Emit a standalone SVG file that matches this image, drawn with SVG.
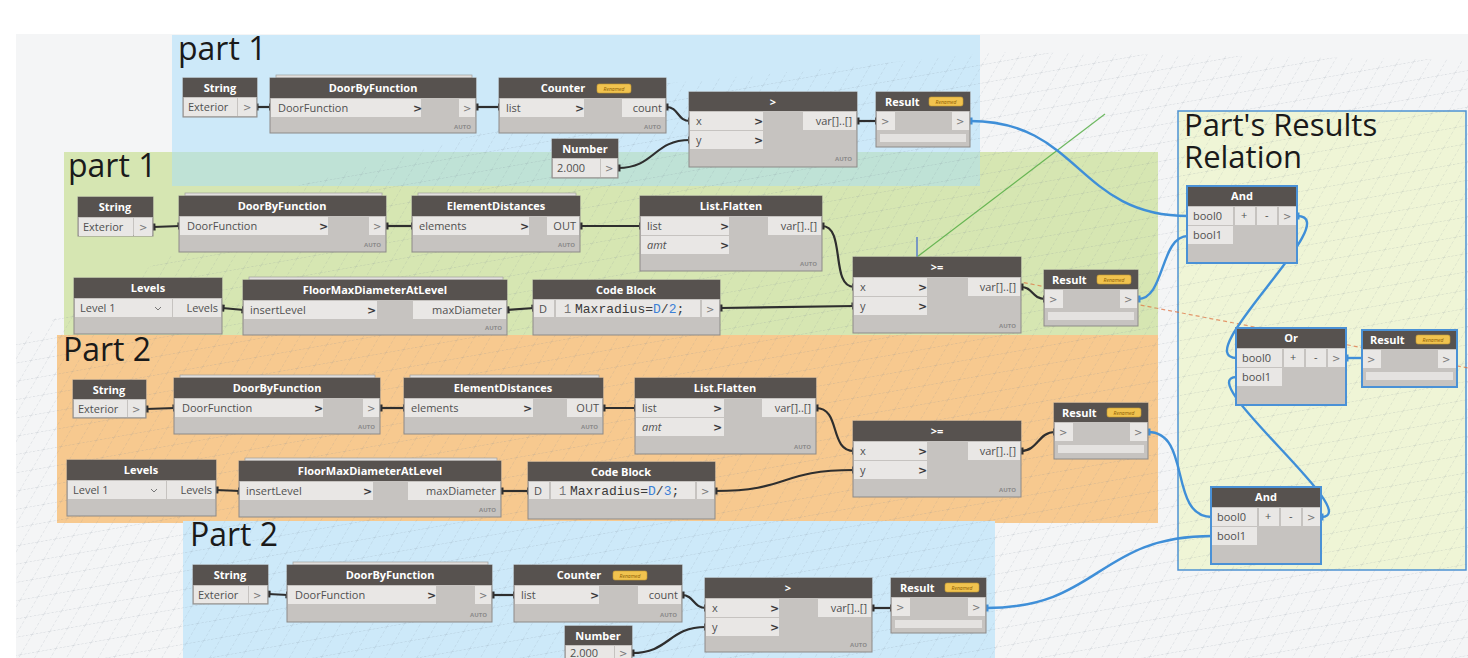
<svg xmlns="http://www.w3.org/2000/svg" width="1468" height="658" viewBox="0 0 1468 658">
<defs>
<style>
.nb{fill:#c6c3c0;stroke:#8d8a88;stroke-width:1}
.nh{fill:#57524f}
.pf{fill:#e9e7e5}
.bar{fill:#e4e2e0}
.ht{font-family:"Open Sans",sans-serif;font-weight:bold;font-size:11px;fill:#ffffff;text-anchor:middle}
.hl{text-anchor:start}
.pt{font-family:"Open Sans",sans-serif;font-size:11px;fill:#505050}
.pr{text-anchor:end}
.it{font-style:italic}
.cv{font-family:"DejaVu Sans",sans-serif;font-weight:bold;font-size:11px;fill:#3a3a3a}
.og{font-family:"DejaVu Sans",sans-serif;font-size:10px;fill:#7a7a7a}
.au{font-family:"Open Sans",sans-serif;font-weight:bold;font-size:6px;fill:#8a8a8a;text-anchor:end}
.rb{fill:#f1c34f;stroke:#c79a30;stroke-width:.6}
.rt{font-family:"Open Sans",sans-serif;font-style:italic;font-size:5px;fill:#8a5b00;text-anchor:middle}
.gt{font-family:"Open Sans",sans-serif;font-size:32px;fill:#1a1a1a}
.gr{font-family:"Open Sans",sans-serif;font-size:31px;fill:#1a1a1a}
.mono{font-family:"Liberation Mono",monospace;font-size:13px;fill:#3a3a3a}
.ln{font-family:"Liberation Mono",monospace;font-size:12px;fill:#777}
.kw{fill:#3c7fd6}
.w{fill:none;stroke:#2e2e2e;stroke-width:2.2;marker-start:url(#n);marker-end:url(#n)}
.bw{fill:none;stroke:#3f8fd8;stroke-width:2.4;marker-start:url(#nb);marker-end:url(#nb)}
.sel{stroke:#4a91d6;stroke-width:2}
.stk{fill:#e2e0de;stroke:#a09e9c;stroke-width:.7}
</style>
<marker id="n" markerWidth="6" markerHeight="8" refX="2.5" refY="4" orient="auto" markerUnits="userSpaceOnUse"><rect x="0" y="0.5" width="5" height="7" fill="#2e2e2e"/></marker>
<marker id="nb" markerWidth="6" markerHeight="8" refX="2.5" refY="4" orient="auto" markerUnits="userSpaceOnUse"><rect x="0" y="0.5" width="5" height="7" fill="#3f8fd8"/></marker>
<pattern id="grid" width="18" height="18" patternUnits="userSpaceOnUse" patternTransform="rotate(-10) skewX(-40)">
<path d="M0 0H18M0 0V18" fill="none" stroke="#7d8a97" stroke-width="0.8" stroke-dasharray="2.5 1.5"/>
</pattern>
</defs>

<rect x="0" y="0" width="1468" height="658" fill="#ffffff"/>
<rect x="16" y="34" width="1452" height="624" fill="#f4f5f6"/>

<g id="groups">
<rect x="172" y="35" width="808" height="151" fill="#cde9f9"/>
<rect x="64" y="152" width="1094" height="184" fill="#d6e6b2"/>
<rect x="172" y="152" width="808" height="34" fill="#bfe2d6"/>
<rect x="57" y="335" width="1101" height="188" fill="#f7c98f"/>
<rect x="183" y="521" width="812" height="137" fill="#cde9f9"/>
<rect x="1178" y="111" width="288" height="459" fill="#eff5d6" stroke="#4d92d3" stroke-width="1.5"/>
</g>

<polygon points="16,340 300,185 650,85 1000,52 1468,60 1468,658 16,658" fill="url(#grid)" opacity="0.4"/>
<line x1="917" y1="257" x2="1105" y2="114" stroke="#4caa3c" stroke-width="1.2" opacity="0.8"/>
<line x1="917" y1="237" x2="917" y2="257" stroke="#5a7ec8" stroke-width="1.5"/>
<line x1="1010" y1="280" x2="1468" y2="368" stroke="#e0703e" stroke-width="1.2" stroke-dasharray="4 3" opacity="0.7"/>

<g id="titles">
<text class="gt" x="178" y="60">part 1</text>
<text class="gt" x="68" y="177">part 1</text>
<text class="gt" x="63" y="361">Part 2</text>
<text class="gt" x="190" y="546">Part 2</text>
<text class="gr"><tspan x="1184" y="136">Part's Results</tspan><tspan x="1184" y="168">Relation</tspan></text>
</g>

<g id="connectors">
<path class="w" d="M256,107 L271,107"/>
<path class="w" d="M476,107 L500,107"/>
<path class="w" d="M666,107 C679,107 677,121 690,121"/>
<path class="w" d="M618,168 C655,168 653,140 690,140"/>
<path class="w" d="M857,121 L877,121"/>
<path class="w" d="M153,227 L180,226"/>
<path class="w" d="M386,226 L413,226"/>
<path class="w" d="M580,226 L641,226"/>
<path class="w" d="M822,226 C846,226 830,287 854,287"/>
<path class="w" d="M222,308 L244,310"/>
<path class="w" d="M507,310 L534,308"/>
<path class="w" d="M720,308 L854,306"/>
<path class="w" d="M1021,287 C1033,287 1032,299 1045,299"/>
<path class="w" d="M146,409 L175,408"/>
<path class="w" d="M380,408 L405,408"/>
<path class="w" d="M603,408 L636,408"/>
<path class="w" d="M816,408 C841,408 829,451 854,451"/>
<path class="w" d="M216,490 L240,491"/>
<path class="w" d="M501,491 L529,491"/>
<path class="w" d="M715,491 C790,491 779,470 854,470"/>
<path class="w" d="M1021,451 C1038,451 1038,432 1055,432"/>
<path class="w" d="M268,594 L288,595"/>
<path class="w" d="M492,595 L515,595"/>
<path class="w" d="M682,595 C694,595 693,608 706,608"/>
<path class="w" d="M632,653 C670,653 668,627 706,627"/>
<path class="w" d="M872,608 L892,608"/>
<path class="bw" d="M970,121 C1080,121 1077,216 1188,216"/>
<path class="bw" d="M1138,299 C1165,299 1160,236 1188,236"/>
<path class="bw" d="M1297,216 C1348,216 1186,358 1237,358"/>
<path class="bw" d="M1321,517 C1368,517 1190,377 1237,377"/>
<path class="bw" d="M1148,432 C1192,432 1168,517 1212,517"/>
<path class="bw" d="M986,608 C1100,608 1097,536 1212,536"/>
<path class="bw" d="M1346,358 L1363,358"/>
</g>

<!-- ===== Top part 1 ===== -->
<g id="p1a-string">
<rect class="nb" x="183" y="78" width="74" height="39"/>
<rect class="nh" x="183" y="78" width="74" height="19"/>
<text class="ht" x="220" y="92">String</text>
<rect class="pf" x="184" y="98" width="53" height="18"/>
<text class="pt" x="188" y="111">Exterior</text>
<rect class="pf" x="238" y="98" width="18" height="18"/>
<text class="og" x="243" y="111">&gt;</text>
</g>
<g id="p1a-door">
<rect class="stk" x="276" y="75" width="196" height="3"/>
<rect class="nb" x="270" y="78" width="206" height="55"/>
<rect class="nh" x="270" y="78" width="206" height="20"/>
<text class="ht" x="373" y="92">DoorByFunction</text>
<rect class="pf" x="271" y="99" width="150" height="18"/>
<text class="pt" x="278" y="112">DoorFunction</text>
<text class="cv" x="413" y="112">&gt;</text>
<rect class="pf" x="459" y="99" width="16" height="18"/>
<text class="og" x="463" y="112">&gt;</text>
<text class="au" x="471" y="129">AUTO</text>
</g>
<g id="p1a-counter">
<rect class="nb" x="499" y="78" width="167" height="55"/>
<rect class="nh" x="499" y="78" width="167" height="20"/>
<text class="ht" x="563" y="92">Counter</text>
<rect class="rb" x="597" y="84" width="34" height="9" rx="2"/>
<text class="rt" x="614" y="90.5">Renamed</text>
<rect class="pf" x="500" y="99" width="84" height="18"/>
<text class="pt" x="506" y="112">list</text>
<text class="cv" x="575" y="112">&gt;</text>
<rect class="pf" x="622" y="99" width="43" height="18"/>
<text class="pt pr" x="662" y="112">count</text>
<text class="au" x="661" y="129">AUTO</text>
</g>
<g id="p1a-number">
<rect class="nb" x="552" y="139" width="66" height="39"/>
<rect class="nh" x="552" y="139" width="66" height="19"/>
<text class="ht" x="585" y="153">Number</text>
<rect class="pf" x="553" y="159" width="47" height="18"/>
<text class="pt" x="557" y="172">2.000</text>
<rect class="pf" x="601" y="159" width="16" height="18"/>
<text class="og" x="605" y="172">&gt;</text>
</g>
<g id="p1a-gt">
<rect class="nb" x="689" y="92" width="168" height="75"/>
<rect class="nh" x="689" y="92" width="168" height="19"/>
<text class="ht" x="773" y="106">&gt;</text>
<rect class="pf" x="690" y="112" width="73" height="18"/>
<text class="pt" x="696" y="125">x</text>
<text class="cv" x="754" y="125">&gt;</text>
<rect class="pf" x="690" y="131" width="73" height="18"/>
<text class="pt" x="696" y="144">y</text>
<text class="cv" x="754" y="144">&gt;</text>
<rect class="pf" x="803" y="112" width="53" height="18"/>
<text class="pt pr" x="852" y="125">var[]..[]</text>
<text class="au" x="852" y="161">AUTO</text>
</g>
<g id="p1a-result">
<rect class="nb" x="876" y="92" width="94" height="55"/>
<rect class="nh" x="876" y="92" width="94" height="19"/>
<text class="ht hl" x="885" y="106">Result</text>
<rect class="rb" x="929" y="97" width="34" height="9" rx="2"/>
<text class="rt" x="946" y="103.5">Renamed</text>
<rect class="pf" x="877" y="112" width="18" height="18"/>
<text class="og" x="881" y="125">&gt;</text>
<rect class="pf" x="952" y="112" width="17" height="18"/>
<text class="og" x="956" y="125">&gt;</text>
<rect class="bar" x="880" y="134" width="86" height="8"/>
</g>

<!-- ===== Green part 1 ===== -->
<g id="p1b-string">
<rect class="nb" x="78" y="197" width="75" height="39"/>
<rect class="nh" x="78" y="197" width="75" height="20"/>
<text class="ht" x="115" y="211">String</text>
<rect class="pf" x="79" y="218" width="54" height="18"/>
<text class="pt" x="83" y="231">Exterior</text>
<rect class="pf" x="134" y="218" width="18" height="18"/>
<text class="og" x="139" y="231">&gt;</text>
</g>
<g id="p1b-door">
<rect class="stk" x="185" y="193" width="197" height="3"/>
<rect class="nb" x="179" y="196" width="207" height="56"/>
<rect class="nh" x="179" y="196" width="207" height="20"/>
<text class="ht" x="282" y="210">DoorByFunction</text>
<rect class="pf" x="180" y="217" width="148" height="18"/>
<text class="pt" x="187" y="230">DoorFunction</text>
<text class="cv" x="319" y="230">&gt;</text>
<rect class="pf" x="369" y="217" width="16" height="18"/>
<text class="og" x="373" y="230">&gt;</text>
<text class="au" x="381" y="247">AUTO</text>
</g>
<g id="p1b-elemdist">
<rect class="stk" x="418" y="193" width="158" height="3"/>
<rect class="nb" x="412" y="196" width="168" height="56"/>
<rect class="nh" x="412" y="196" width="168" height="20"/>
<text class="ht" x="496" y="210">ElementDistances</text>
<rect class="pf" x="413" y="217" width="116" height="18"/>
<text class="pt" x="419" y="230">elements</text>
<text class="cv" x="520" y="230">&gt;</text>
<rect class="pf" x="547" y="217" width="32" height="18"/>
<text class="pt pr" x="576" y="230">OUT</text>
<text class="au" x="575" y="247">AUTO</text>
</g>
<g id="p1b-flatten">
<rect class="nb" x="640" y="196" width="182" height="75"/>
<rect class="nh" x="640" y="196" width="182" height="20"/>
<text class="ht" x="731" y="210">List.Flatten</text>
<rect class="pf" x="641" y="217" width="88" height="18"/>
<text class="pt" x="647" y="230">list</text>
<text class="cv" x="720" y="230">&gt;</text>
<rect class="pf" x="641" y="236" width="88" height="18"/>
<text class="pt it" x="647" y="249">amt</text>
<text class="cv" x="720" y="249">&gt;</text>
<rect class="pf" x="768" y="217" width="53" height="18"/>
<text class="pt pr" x="817" y="230">var[]..[]</text>
<text class="au" x="817" y="266">AUTO</text>
</g>
<g id="p1b-levels">
<rect class="nb" x="74" y="278" width="148" height="56"/>
<rect class="nh" x="74" y="278" width="148" height="20"/>
<text class="ht" x="148" y="292">Levels</text>
<rect class="pf" x="75" y="299" width="97" height="18"/>
<text class="pt" x="80" y="312">Level 1</text>
<polyline points="155,307 158,310 161,307" fill="none" stroke="#777" stroke-width="1"/>
<rect class="pf" x="173" y="299" width="48" height="18"/>
<text class="pt pr" x="218" y="312">Levels</text>
</g>
<g id="p1b-floormax">
<rect class="stk" x="249" y="277" width="254" height="3"/>
<rect class="nb" x="243" y="280" width="264" height="55"/>
<rect class="nh" x="243" y="280" width="264" height="20"/>
<text class="ht" x="375" y="294">FloorMaxDiameterAtLevel</text>
<rect class="pf" x="244" y="301" width="133" height="18"/>
<text class="pt" x="250" y="314">insertLevel</text>
<text class="cv" x="367" y="314">&gt;</text>
<rect class="pf" x="413" y="301" width="93" height="18"/>
<text class="pt pr" x="502" y="314">maxDiameter</text>
<text class="au" x="502" y="330">AUTO</text>
</g>
<g id="p1b-codeblock">
<rect class="nb" x="533" y="280" width="187" height="55"/>
<rect class="nh" x="533" y="280" width="187" height="19"/>
<text class="ht" x="626" y="294">Code Block</text>
<rect class="pf" x="534" y="300" width="20" height="17"/>
<text class="pt" x="539" y="313">D</text>
<rect class="pf" x="556" y="300" width="144" height="17"/>
<text class="ln" x="564" y="313">1</text>
<text class="mono" x="575" y="313">Maxradius=<tspan class="kw">D</tspan>/<tspan class="kw">2</tspan>;</text>
<rect class="pf" x="702" y="300" width="17" height="17"/>
<text class="og" x="706" y="313">&gt;</text>
</g>
<g id="p1b-gte">
<rect class="nb" x="853" y="257" width="168" height="76"/>
<rect class="nh" x="853" y="257" width="168" height="20"/>
<text class="ht" x="937" y="271">&gt;=</text>
<rect class="pf" x="854" y="278" width="73" height="18"/>
<text class="pt" x="860" y="291">x</text>
<text class="cv" x="918" y="291">&gt;</text>
<rect class="pf" x="854" y="297" width="73" height="18"/>
<text class="pt" x="860" y="310">y</text>
<text class="cv" x="918" y="310">&gt;</text>
<rect class="pf" x="968" y="278" width="52" height="18"/>
<text class="pt pr" x="1016" y="291">var[]..[]</text>
<text class="au" x="1016" y="328">AUTO</text>
</g>
<g id="p1b-result">
<rect class="nb" x="1044" y="270" width="94" height="56"/>
<rect class="nh" x="1044" y="270" width="94" height="19"/>
<text class="ht hl" x="1052" y="284">Result</text>
<rect class="rb" x="1097" y="275" width="34" height="9" rx="2"/>
<text class="rt" x="1114" y="281.5">Renamed</text>
<rect class="pf" x="1045" y="290" width="18" height="18"/>
<text class="og" x="1049" y="303">&gt;</text>
<rect class="pf" x="1120" y="290" width="17" height="18"/>
<text class="og" x="1124" y="303">&gt;</text>
<rect class="bar" x="1048" y="312" width="86" height="8"/>
</g>

<!-- ===== Orange Part 2 ===== -->
<g id="p2a-string">
<rect class="nb" x="73" y="380" width="73" height="38"/>
<rect class="nh" x="73" y="380" width="73" height="19"/>
<text class="ht" x="109" y="394">String</text>
<rect class="pf" x="74" y="400" width="53" height="17"/>
<text class="pt" x="78" y="413">Exterior</text>
<rect class="pf" x="128" y="400" width="17" height="17"/>
<text class="og" x="132" y="413">&gt;</text>
</g>
<g id="p2a-door">
<rect class="stk" x="180" y="375" width="195" height="3"/>
<rect class="nb" x="174" y="378" width="206" height="56"/>
<rect class="nh" x="174" y="378" width="206" height="20"/>
<text class="ht" x="277" y="392">DoorByFunction</text>
<rect class="pf" x="175" y="399" width="148" height="18"/>
<text class="pt" x="182" y="412">DoorFunction</text>
<text class="cv" x="314" y="412">&gt;</text>
<rect class="pf" x="363" y="399" width="16" height="18"/>
<text class="og" x="367" y="412">&gt;</text>
<text class="au" x="375" y="429">AUTO</text>
</g>
<g id="p2a-elemdist">
<rect class="stk" x="410" y="375" width="189" height="3"/>
<rect class="nb" x="404" y="378" width="199" height="56"/>
<rect class="nh" x="404" y="378" width="199" height="20"/>
<text class="ht" x="503" y="392">ElementDistances</text>
<rect class="pf" x="405" y="399" width="128" height="18"/>
<text class="pt" x="411" y="412">elements</text>
<text class="cv" x="523" y="412">&gt;</text>
<rect class="pf" x="567" y="399" width="35" height="18"/>
<text class="pt pr" x="599" y="412">OUT</text>
<text class="au" x="598" y="429">AUTO</text>
</g>
<g id="p2a-flatten">
<rect class="nb" x="635" y="378" width="181" height="76"/>
<rect class="nh" x="635" y="378" width="181" height="20"/>
<text class="ht" x="725" y="392">List.Flatten</text>
<rect class="pf" x="636" y="399" width="88" height="18"/>
<text class="pt" x="642" y="412">list</text>
<text class="cv" x="713" y="412">&gt;</text>
<rect class="pf" x="636" y="418" width="88" height="18"/>
<text class="pt it" x="642" y="431">amt</text>
<text class="cv" x="713" y="431">&gt;</text>
<rect class="pf" x="762" y="399" width="53" height="18"/>
<text class="pt pr" x="811" y="412">var[]..[]</text>
<text class="au" x="811" y="449">AUTO</text>
</g>
<g id="p2a-levels">
<rect class="nb" x="67" y="460" width="149" height="56"/>
<rect class="nh" x="67" y="460" width="149" height="20"/>
<text class="ht" x="141" y="474">Levels</text>
<rect class="pf" x="68" y="481" width="98" height="18"/>
<text class="pt" x="73" y="494">Level 1</text>
<polyline points="151,489 154,492 157,489" fill="none" stroke="#777" stroke-width="1"/>
<rect class="pf" x="167" y="481" width="48" height="18"/>
<text class="pt pr" x="212" y="494">Levels</text>
</g>
<g id="p2a-floormax">
<rect class="stk" x="245" y="458" width="252" height="3"/>
<rect class="nb" x="239" y="461" width="262" height="56"/>
<rect class="nh" x="239" y="461" width="262" height="20"/>
<text class="ht" x="370" y="475">FloorMaxDiameterAtLevel</text>
<rect class="pf" x="240" y="482" width="133" height="18"/>
<text class="pt" x="246" y="495">insertLevel</text>
<text class="cv" x="363" y="495">&gt;</text>
<rect class="pf" x="408" y="482" width="92" height="18"/>
<text class="pt pr" x="496" y="495">maxDiameter</text>
<text class="au" x="496" y="512">AUTO</text>
</g>
<g id="p2a-codeblock">
<rect class="nb" x="528" y="462" width="187" height="57"/>
<rect class="nh" x="528" y="462" width="187" height="19"/>
<text class="ht" x="621" y="476">Code Block</text>
<rect class="pf" x="529" y="482" width="20" height="17"/>
<text class="pt" x="534" y="495">D</text>
<rect class="pf" x="551" y="482" width="144" height="17"/>
<text class="ln" x="559" y="495">1</text>
<text class="mono" x="570" y="495">Maxradius=<tspan class="kw">D</tspan>/<tspan class="kw">3</tspan>;</text>
<rect class="pf" x="697" y="482" width="17" height="17"/>
<text class="og" x="701" y="495">&gt;</text>
</g>
<g id="p2a-gte">
<rect class="nb" x="853" y="421" width="168" height="76"/>
<rect class="nh" x="853" y="421" width="168" height="20"/>
<text class="ht" x="937" y="435">&gt;=</text>
<rect class="pf" x="854" y="442" width="73" height="18"/>
<text class="pt" x="860" y="455">x</text>
<text class="cv" x="918" y="455">&gt;</text>
<rect class="pf" x="854" y="461" width="73" height="18"/>
<text class="pt" x="860" y="474">y</text>
<text class="cv" x="918" y="474">&gt;</text>
<rect class="pf" x="968" y="442" width="52" height="18"/>
<text class="pt pr" x="1016" y="455">var[]..[]</text>
<text class="au" x="1016" y="492">AUTO</text>
</g>
<g id="p2a-result">
<rect class="nb" x="1054" y="403" width="94" height="56"/>
<rect class="nh" x="1054" y="403" width="94" height="19"/>
<text class="ht hl" x="1062" y="417">Result</text>
<rect class="rb" x="1107" y="408" width="34" height="9" rx="2"/>
<text class="rt" x="1124" y="414.5">Renamed</text>
<rect class="pf" x="1055" y="423" width="18" height="18"/>
<text class="og" x="1059" y="436">&gt;</text>
<rect class="pf" x="1130" y="423" width="17" height="18"/>
<text class="og" x="1134" y="436">&gt;</text>
<rect class="bar" x="1058" y="445" width="86" height="8"/>
</g>

<!-- ===== Bottom Part 2 ===== -->
<g id="p2b-string">
<rect class="nb" x="193" y="565" width="75" height="39"/>
<rect class="nh" x="193" y="565" width="75" height="20"/>
<text class="ht" x="230" y="579">String</text>
<rect class="pf" x="194" y="586" width="54" height="17"/>
<text class="pt" x="198" y="599">Exterior</text>
<rect class="pf" x="249" y="586" width="18" height="17"/>
<text class="og" x="253" y="599">&gt;</text>
</g>
<g id="p2b-door">
<rect class="stk" x="293" y="562" width="195" height="3"/>
<rect class="nb" x="287" y="565" width="205" height="57"/>
<rect class="nh" x="287" y="565" width="205" height="20"/>
<text class="ht" x="390" y="579">DoorByFunction</text>
<rect class="pf" x="288" y="586" width="148" height="18"/>
<text class="pt" x="295" y="599">DoorFunction</text>
<text class="cv" x="427" y="599">&gt;</text>
<rect class="pf" x="475" y="586" width="16" height="18"/>
<text class="og" x="479" y="599">&gt;</text>
<text class="au" x="487" y="617">AUTO</text>
</g>
<g id="p2b-counter">
<rect class="nb" x="514" y="565" width="168" height="57"/>
<rect class="nh" x="514" y="565" width="168" height="20"/>
<text class="ht" x="579" y="579">Counter</text>
<rect class="rb" x="613" y="571" width="34" height="9" rx="2"/>
<text class="rt" x="630" y="577.5">Renamed</text>
<rect class="pf" x="515" y="586" width="84" height="18"/>
<text class="pt" x="521" y="599">list</text>
<text class="cv" x="590" y="599">&gt;</text>
<rect class="pf" x="638" y="586" width="43" height="18"/>
<text class="pt pr" x="678" y="599">count</text>
<text class="au" x="677" y="617">AUTO</text>
</g>
<g id="p2b-number">
<rect class="nb" x="565" y="626" width="67" height="40"/>
<rect class="nh" x="565" y="626" width="67" height="19"/>
<text class="ht" x="598" y="640">Number</text>
<rect class="pf" x="566" y="646" width="48" height="18"/>
<text class="pt" x="570" y="657">2.000</text>
<rect class="pf" x="615" y="646" width="16" height="18"/>
<text class="og" x="619" y="657">&gt;</text>
</g>
<g id="p2b-gt">
<rect class="nb" x="705" y="578" width="167" height="74"/>
<rect class="nh" x="705" y="578" width="167" height="20"/>
<text class="ht" x="788" y="592">&gt;</text>
<rect class="pf" x="706" y="599" width="73" height="18"/>
<text class="pt" x="712" y="612">x</text>
<text class="cv" x="770" y="612">&gt;</text>
<rect class="pf" x="706" y="618" width="73" height="18"/>
<text class="pt" x="712" y="631">y</text>
<text class="cv" x="770" y="631">&gt;</text>
<rect class="pf" x="818" y="599" width="53" height="18"/>
<text class="pt pr" x="867" y="612">var[]..[]</text>
<text class="au" x="867" y="647">AUTO</text>
</g>
<g id="p2b-result">
<rect class="nb" x="891" y="578" width="95" height="55"/>
<rect class="nh" x="891" y="578" width="95" height="19"/>
<text class="ht hl" x="900" y="592">Result</text>
<rect class="rb" x="945" y="583" width="34" height="9" rx="2"/>
<text class="rt" x="962" y="589.5">Renamed</text>
<rect class="pf" x="892" y="598" width="18" height="18"/>
<text class="og" x="896" y="611">&gt;</text>
<rect class="pf" x="968" y="598" width="17" height="18"/>
<text class="og" x="972" y="611">&gt;</text>
<rect class="bar" x="895" y="620" width="87" height="8"/>
</g>

<!-- ===== Results relation ===== -->
<g id="rel-and-top">
<rect class="nb sel" x="1187" y="186" width="110" height="77"/>
<rect class="nh" x="1188" y="187" width="108" height="19"/>
<text class="ht" x="1242" y="200">And</text>
<rect class="pf" x="1188" y="207" width="45" height="18"/>
<text class="pt" x="1193" y="220">bool0</text>
<rect class="pf" x="1235" y="207" width="20" height="18"/>
<text class="pt" x="1241" y="219">+</text>
<rect class="pf" x="1257" y="207" width="20" height="18"/>
<text class="pt" x="1265" y="219">-</text>
<rect class="pf" x="1279" y="207" width="17" height="18"/>
<text class="og" x="1283" y="220">&gt;</text>
<rect class="pf" x="1188" y="226" width="45" height="18"/>
<text class="pt" x="1193" y="239">bool1</text>
</g>
<g id="rel-or">
<rect class="nb sel" x="1236" y="328" width="110" height="77"/>
<rect class="nh" x="1237" y="329" width="108" height="19"/>
<text class="ht" x="1291" y="342">Or</text>
<rect class="pf" x="1237" y="349" width="45" height="18"/>
<text class="pt" x="1242" y="362">bool0</text>
<rect class="pf" x="1284" y="349" width="20" height="18"/>
<text class="pt" x="1290" y="361">+</text>
<rect class="pf" x="1306" y="349" width="20" height="18"/>
<text class="pt" x="1314" y="361">-</text>
<rect class="pf" x="1328" y="349" width="17" height="18"/>
<text class="og" x="1332" y="362">&gt;</text>
<rect class="pf" x="1237" y="368" width="45" height="18"/>
<text class="pt" x="1242" y="381">bool1</text>
</g>
<g id="rel-result">
<rect class="nb sel" x="1362" y="330" width="95" height="57"/>
<rect class="nh" x="1363" y="331" width="93" height="18"/>
<text class="ht hl" x="1370" y="344">Result</text>
<rect class="rb" x="1416" y="335" width="34" height="9" rx="2"/>
<text class="rt" x="1433" y="341.5">Renamed</text>
<rect class="pf" x="1363" y="350" width="18" height="18"/>
<text class="og" x="1367" y="363">&gt;</text>
<rect class="pf" x="1438" y="350" width="18" height="18"/>
<text class="og" x="1442" y="363">&gt;</text>
<rect class="bar" x="1366" y="372" width="87" height="8"/>
</g>
<g id="rel-and-bottom">
<rect class="nb sel" x="1211" y="487" width="110" height="77"/>
<rect class="nh" x="1212" y="488" width="108" height="19"/>
<text class="ht" x="1266" y="501">And</text>
<rect class="pf" x="1212" y="508" width="45" height="18"/>
<text class="pt" x="1217" y="521">bool0</text>
<rect class="pf" x="1259" y="508" width="20" height="18"/>
<text class="pt" x="1265" y="520">+</text>
<rect class="pf" x="1281" y="508" width="20" height="18"/>
<text class="pt" x="1289" y="520">-</text>
<rect class="pf" x="1303" y="508" width="17" height="18"/>
<text class="og" x="1307" y="521">&gt;</text>
<rect class="pf" x="1212" y="527" width="45" height="18"/>
<text class="pt" x="1217" y="540">bool1</text>
</g>
</svg>
